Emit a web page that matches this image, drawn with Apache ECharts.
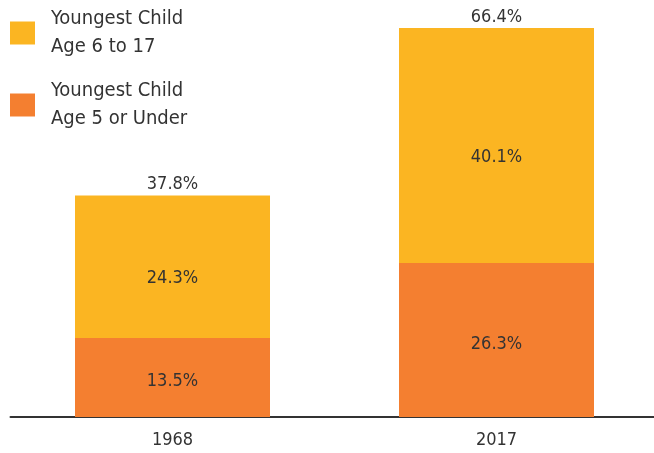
<!DOCTYPE html>
<html><head><meta charset="utf-8">
<script src="https://cdn.jsdelivr.net/npm/echarts@6/dist/echarts.min.js"></script>
<style>html,body{margin:0;padding:0;background:#fff;overflow:hidden}#c{width:660px;height:453px}</style>
</head><body><div id="c"></div>
<script>
const categories = ['1968', '2017'];
const under5 = [13.5, 26.3];
const age6to17 = [24.3, 40.1];
const totals = [37.8, 66.4];
const seriesNames = ['Youngest Child\nAge 6 to 17', 'Youngest Child\nAge 5 or Under'];

const FONT = '"DejaVu Sans Condensed", "Roboto", sans-serif';
const TXT = '#333333';
const chart = echarts.init(document.getElementById('c'));
chart.setOption({
  animation: false,
  textStyle: { fontFamily: FONT, color: TXT },
  grid: { left: 10.5, width: 648, top: 7, bottom: 36 },
  legend: {
    data: [seriesNames[0], seriesNames[1]],
    orient: 'vertical', left: 10, top: 5, padding: 0,
    itemWidth: 25, itemHeight: 23, itemGap: 16, icon: 'rect',
    selectedMode: false,
    textStyle: { fontFamily: FONT, fontSize: 20, lineHeight: 28, color: TXT, padding: [0, 0, 0, 11] }
  },
  xAxis: {
    type: 'category', data: categories,
    axisLine: { lineStyle: { color: '#333', width: 2 } },
    axisTick: { show: false },
    axisLabel: { fontFamily: FONT, fontSize: 18, color: TXT, margin: 14 }
  },
  yAxis: { type: 'value', min: 0, max: 70, show: false, splitLine: { show: false } },
  series: [
    {
      name: seriesNames[1], type: 'bar', stack: 's', data: under5, barWidth: 195,
      itemStyle: { color: '#F47F30' },
      label: { show: true, position: 'inside', offset: [0, 4], fontFamily: FONT, fontSize: 18, color: TXT, formatter: p => p.value.toFixed(1) + '%' }
    },
    {
      name: seriesNames[0], type: 'bar', stack: 's', data: age6to17, barWidth: 195,
      itemStyle: { color: '#FBB522' },
      label: { show: true, position: 'inside', offset: [0, 12], fontFamily: FONT, fontSize: 18, color: TXT, formatter: p => p.value.toFixed(1) + '%' }
    },
    {
      name: 'total', type: 'bar', stack: 's', data: totals.map(() => 0), barWidth: 195,
      itemStyle: { color: 'transparent' },
      label: { show: true, position: 'top', distance: 2, fontFamily: FONT, fontSize: 18, color: TXT, formatter: p => totals[p.dataIndex].toFixed(1) + '%' }
    }
  ]
});
</script></body></html>
